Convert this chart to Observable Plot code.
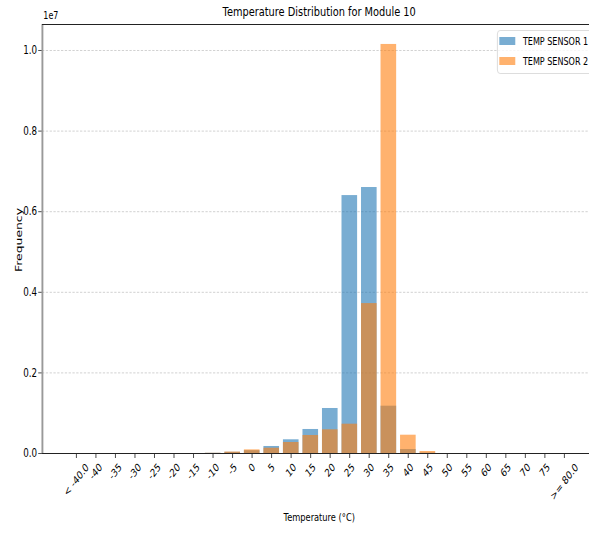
<!DOCTYPE html>
<html><head><meta charset="utf-8">
<script src="https://cdn.jsdelivr.net/npm/d3@7"></script>
<script src="https://cdn.jsdelivr.net/npm/@observablehq/plot@0.6"></script>
<style>
html,body{margin:0;background:#fff;}
#outer{position:relative;width:589px;height:533px;overflow:hidden;}
#wrap{position:absolute;left:0;top:0;width:775px;height:533px;transform:scaleX(0.76);transform-origin:0 0;font-family:"DejaVu Sans",sans-serif;color:#000;}
.t{position:absolute;white-space:nowrap;line-height:1;}
#legend{position:absolute;left:654px;top:30px;width:140px;height:42px;border:1px solid #d8d8d8;border-radius:4px;background:rgba(255,255,255,0.8);font-size:10.6px;}
.row{position:absolute;left:2px;display:flex;align-items:center;line-height:1;}
.sw{width:21px;height:8px;margin-right:10px;}
</style></head>
<body><div id="outer"><div id="wrap"></div></div>
<script>
const categories = ["< -40.0","-40","-35","-30","-25","-20","-15","-10","-5","0","5","10","15","20","25","30","35","40","45","50","55","60","65","70","75",">= 80.0"];
const sensor1 = [0,0,0,0,0,0,0,5000,30000,70000,174000,340000,596000,1117000,6400000,6600000,1174000,99000,10000,0,0,0,0,0,0,0];
const sensor2 = [0,0,0,0,0,0,0,5000,35000,90000,131000,273000,447000,588000,727000,3720000,10150000,454000,50000,0,0,0,0,0,0,0];
const seriesNames = ["TEMP SENSOR 1","TEMP SENSOR 2"];
const seriesColors = ["#1f77b4","#ff7f0e"];
const yTicks = [0,2e6,4e6,6e6,8e6,1e7];

const rows1 = sensor1.map((v,i)=>({i,v}));
const rows2 = sensor2.map((v,i)=>({i,v}));
const xDom = [-1.742, 26.28];
const yDom = [0, 1.0645e7];

// measure tick label lengths so that each rotated label is centred under its tick (matplotlib style)
const xFont = 11;
const ctx = document.createElement("canvas").getContext("2d");
ctx.font = `${xFont}px "DejaVu Sans"`;
const labelMarks = categories.map((c, i) => {
  const L = ctx.measureText(c).width;
  const ext = (L + 0.75 * xFont) * Math.SQRT1_2;
  return Plot.text([{i, c}], {x: "i", y: 0, text: "c", rotate: -45, textAnchor: "middle", lineAnchor: "middle", fontSize: xFont, dy: 9 + ext / 2, fill: "#000"});
});

const chart = Plot.plot({
  width: 775, height: 533,
  marginLeft: 55.3, marginRight: 0, marginTop: 24, marginBottom: 80,
  style: {fontFamily: '"DejaVu Sans",sans-serif', fontSize: "10px", color: "#000", background: "#fff"},
  x: {type: "linear", domain: xDom},
  y: {domain: yDom},
  marks: [
    Plot.gridY(yTicks.slice(1), {stroke: "#bdbdbd", strokeOpacity: 1, strokeDasharray: "3,2", strokeWidth: 0.8}),
    Plot.rect(rows1, {x1: d => d.i - 0.4, x2: d => d.i + 0.4, y1: 0, y2: "v", fill: seriesColors[0], fillOpacity: 0.6}),
    Plot.rect(rows2, {x1: d => d.i - 0.4, x2: d => d.i + 0.4, y1: 0, y2: "v", fill: seriesColors[1], fillOpacity: 0.6}),
    Plot.axisX(d3.range(categories.length), {tickFormat: () => "", tickSize: 5, label: null, stroke: "#333"}),
    ...labelMarks,
    Plot.axisY(yTicks, {tickFormat: d => (d/1e7).toFixed(1), tickSize: 5, tickPadding: 2, label: null, fontSize: 11.5, stroke: "#333"}),
    Plot.ruleX([xDom[0]], {stroke: "#999", strokeWidth: 2.5}),
    Plot.ruleY([0], {stroke: "#222", strokeWidth: 1.2}),
    Plot.ruleY([yDom[1]], {stroke: "#222", strokeWidth: 1.2})
  ]
});
const wrap = document.getElementById("wrap");
wrap.appendChild(chart);

function addText(txt, css){const d=document.createElement("div");d.className="t";d.textContent=txt;Object.assign(d.style,css);wrap.appendChild(d);return d;}
addText("Temperature Distribution for Module 10",{left:"420px",top:"5.5px",fontSize:"12.9px",transform:"translateX(-50%)"});
addText("1e7",{left:"57px",top:"10px",fontSize:"10.5px"});
addText("Temperature (°C)",{left:"420px",top:"513px",fontSize:"10.9px",transform:"translateX(-50%)"});
addText("Frequency",{left:"24.5px",top:"240px",fontSize:"12.4px",transform:"translate(-50%,-50%) rotate(-90deg)"});

const lg = document.createElement("div"); lg.id="legend"; wrap.appendChild(lg);
seriesNames.forEach((n,k)=>{
  const r=document.createElement("div");r.className="row";r.style.top=(5+k*20)+"px";
  const s=document.createElement("div");s.className="sw";s.style.background=seriesColors[k];s.style.opacity=0.6;
  const t=document.createElement("span");t.textContent=n;
  r.appendChild(s);r.appendChild(t);lg.appendChild(r);
});
</script></body></html>
